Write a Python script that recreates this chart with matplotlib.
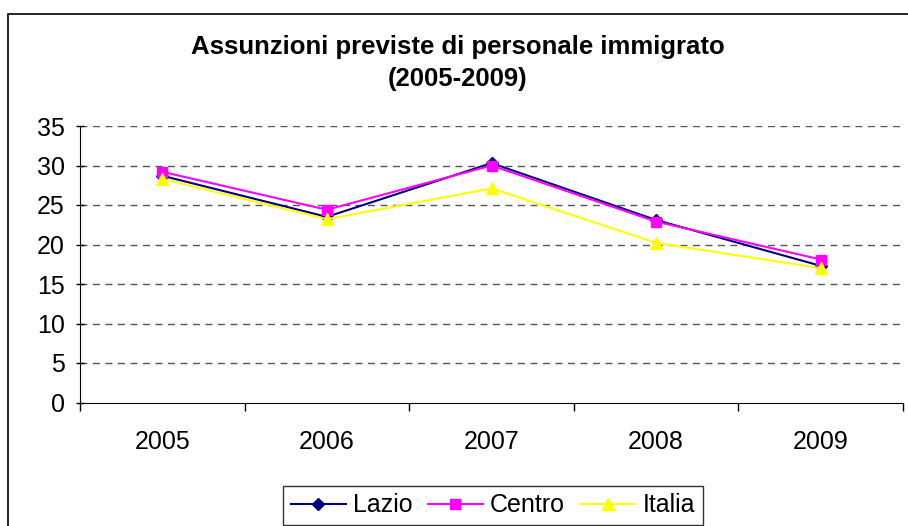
import matplotlib
matplotlib.use("Agg")
import matplotlib.pyplot as plt
from matplotlib.patches import Rectangle

years = ["2005", "2006", "2007", "2008", "2009"]
lazio = [28.7, 23.5, 30.3, 23.1, 17.3]
centro = [29.2, 24.4, 30.0, 22.9, 18.1]
italia = [28.3, 23.2, 27.1, 20.2, 17.0]
yticks = [0, 5, 10, 15, 20, 25, 30, 35]

plt.rcParams['font.family'] = ['Liberation Sans', 'DejaVu Sans']

fig = plt.figure(figsize=(9.08, 5.26), dpi=100)
fig.patches.append(Rectangle((8/908, -0.1), 1.2, (526-14)/526 + 0.1, transform=fig.transFigure,
                             fill=False, edgecolor='black', linewidth=1.2))

ax = fig.add_axes([80/908, 123.5/526, 823/908, 276.5/526])
x = [i + 0.5 for i in range(len(years))]
ax.plot(x, lazio, color='#000080', marker='D', markersize=6, lw=1.5, label='Lazio')
ax.plot(x, centro, color='#FF00FF', marker='s', markersize=7.5, lw=1.5, label='Centro')
ax.plot(x, italia, color='#FFFF00', marker='^', markersize=9, lw=1.5, label='Italia')

ax.set_xlim(0, len(years))
ax.set_ylim(0, 35)
ax.set_yticks(yticks)
ax.set_yticklabels([str(v) for v in yticks], fontsize=18)
ax.set_xticks(range(len(years) + 1))
ax.set_xticklabels([])
ax.set_xticks(x, minor=True)
ax.set_xticklabels(years, minor=True, fontsize=18)
ax.tick_params(axis='x', which='minor', length=0, pad=20)
ax.tick_params(axis='x', which='major', length=6, direction='out', width=1)
ax.tick_params(axis='y', length=6, direction='inout', width=1, pad=8)
for yv in yticks[1:]:
    ax.axhline(yv, color='#555555', lw=1, ls=(0, (5, 4)), zorder=0)
for s in ['top', 'right']:
    ax.spines[s].set_visible(False)
ax.spines['left'].set_color('black')
ax.spines['bottom'].set_color('black')

fig.text(458/908, 1 - 47/526, "Assunzioni previste di personale immigrato", ha='center', va='center',
         fontsize=18.5, fontweight='bold')
fig.text(458/908, 1 - 79/526, "(2005-2009)", ha='center', va='center', fontsize=18.5, fontweight='bold')

leg = fig.legend(loc='upper left', bbox_to_anchor=(283/908, 1 - 486/526), ncol=3, fontsize=18,
                 frameon=True, fancybox=False, edgecolor='black', handlelength=2.2,
                 handletextpad=0.3, columnspacing=0.6, borderpad=0.3, borderaxespad=0)
leg.get_frame().set_linewidth(1)

fig.savefig("out.png", dpi=100)
